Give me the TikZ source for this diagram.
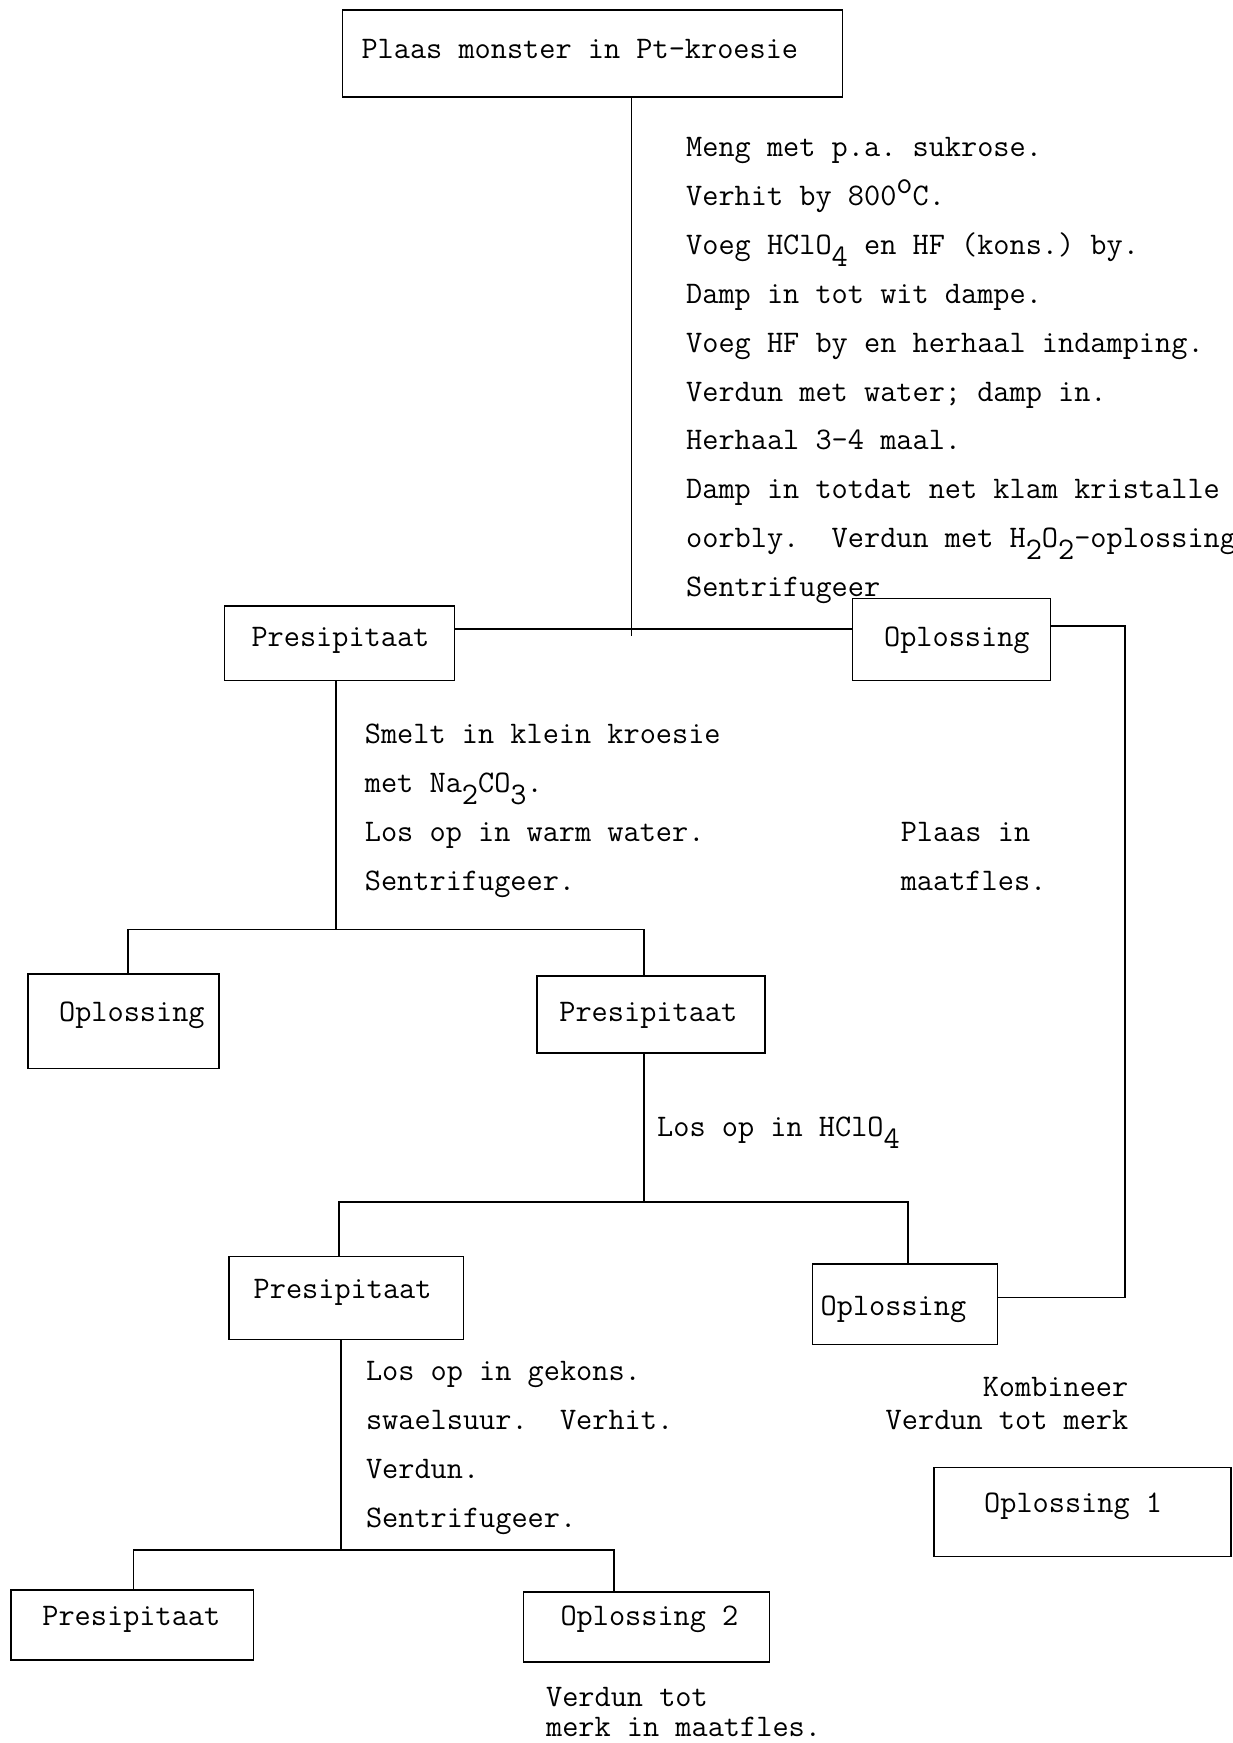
\documentclass[tikz,border=0pt]{standalone}
\usepackage{fontspec}
\setmonofont{Latin Modern Mono}
% typewriter-style sub- and superscripts: full-size characters shifted
\newcommand\lowr[1]{\raisebox{-0.9ex}{#1}}
\newcommand\highr[1]{\raisebox{0.9ex}{#1}}

\begin{document}
\begin{tikzpicture}[x=1pt,y=-1pt,
  every node/.style={font=\fontsize{31.4}{36}\selectfont\ttfamily},
  box/.style={draw, line width=1.5pt, inner sep=0pt},
  lbl/.style={anchor=base west, inner sep=0pt},
  rlbl/.style={anchor=base east, inner sep=0pt},
  conn/.style={line width=1.7pt}]
\useasboundingbox (0,0) rectangle (1233,1743);

% ---- boxes ----
\node[box, minimum width=500pt, minimum height=86.7pt] (top) at (592.6,53.4) {};
\node[box, minimum width=230pt, minimum height=74.5pt] (p1) at (339.7,643.2) {};
\node[box, minimum width=198pt, minimum height=82pt]   (o1) at (951.7,639.3) {};
\node[box, minimum width=191pt, minimum height=94.5pt] (o2) at (123.4,1021.2) {};
\node[box, minimum width=228pt, minimum height=76.7pt] (p2) at (651,1014.5) {};
\node[box, minimum width=234.6pt, minimum height=83.4pt] (p3) at (346.3,1298) {};
\node[box, minimum width=184.6pt, minimum height=80.1pt] (o3) at (905,1304.2) {};
\node[box, minimum width=297pt, minimum height=89pt]   (o4) at (1082.5,1512) {};
\node[box, minimum width=242.4pt, minimum height=70pt] (p4) at (132.3,1624.9) {};
\node[box, minimum width=245.7pt, minimum height=70pt] (o5) at (646.5,1627.1) {};

% ---- box labels ----
\node[lbl] (ttop) at (361.3,58.9) {Plaas monster in Pt-kroesie};
\node[lbl] (tp1) at (251.3,646) {Presipitaat};
\node[lbl] (to1) at (883.9,646) {Oplossing};
\node[lbl] (to2) at (58.9,1021.7) {Oplossing};
\node[lbl] (tp2) at (559.2,1021.7) {Presipitaat};
\node[lbl] (tp3) at (253.5,1298.6) {Presipitaat};
\node[lbl] (to3) at (820.5,1315.3) {Oplossing};
\node[lbl] (to4) at (984,1512) {Oplossing 1};
\node[lbl] (tp4) at (42.2,1625.5) {Presipitaat};
\node[lbl] (to5) at (560.3,1625.5) {Oplossing 2};

% ---- step descriptions ----
\node[lbl] (a0) at (686,156.8) {Meng met p.a. sukrose.};
\node[lbl] (a1) at (686,205.7) {Verhit by 800\highr{o}C.};
\node[lbl] (a2) at (686,254.5) {Voeg HClO\lowr{4} en HF (kons.) by.};
\node[lbl] (a3) at (686,303.4) {Damp in tot wit dampe.};
\node[lbl] (a4) at (686,352.2) {Voeg HF by en herhaal indamping.};
\node[lbl] (a5) at (686,401.1) {Verdun met water; damp in.};
\node[lbl] (a6) at (686,449.9) {Herhaal 3-4 maal.};
\node[lbl] (a7) at (686,498.8) {Damp in totdat net klam kristalle};
\node[lbl] (a8) at (686,547.6) {oorbly.\ \ Verdun met H\lowr{2}O\lowr{2}-oplossing};
\node[lbl] (a9) at (686,596.5) {Sentrifugeer};

\node[lbl] (b0) at (364.7,743.8) {Smelt in klein kroesie};
\node[lbl] (b1) at (364.7,792.7) {met Na\lowr{2}CO\lowr{3}.};
\node[lbl] (b2) at (364.7,841.6) {Los op in warm water.};
\node[lbl] (b3) at (364.7,890.5) {Sentrifugeer.};

\node[lbl] (c0) at (900.6,841.6) {Plaas in};
\node[lbl] (c1) at (900.6,890.5) {maatfles.};

\node[lbl] (d0) at (657,1136.3) {Los op in HClO\lowr{4}};

\node[lbl] (e0) at (365.8,1380.9) {Los op in gekons.};
\node[lbl] (e1) at (365.8,1429.8) {swaelsuur.\ \ Verhit.};
\node[lbl] (e2) at (365.8,1478.7) {Verdun.};
\node[lbl] (e3) at (365.8,1527.6) {Sentrifugeer.};

\node[rlbl] (f0) at (1128.5,1396.4) {Kombineer};
\node[rlbl] (f1) at (1128.5,1429.8) {Verdun tot merk};

\node[lbl] (g0) at (545.9,1706.6) {Verdun tot};
\node[lbl] (g1) at (545.9,1736.6) {merk in maatfles.};

% ---- connectors ----
\coordinate (j1) at (631.5,636);
\coordinate (h1) at (0,629.3);
\draw[conn] (top.south -| j1) -- (j1);
\draw[conn] (p1.east |- h1) -- (o1.west |- h1);

\coordinate (r1) at (1125.1,626);
\coordinate (r2) at (1125.1,1297.5);
\draw[conn] (o1.east |- r1) -- (r1) -- (r2) -- (o3.east |- r2);

\coordinate (s1) at (335.8,929.5);
\coordinate (s1l) at (127.9,929.5);
\coordinate (s1r) at (643.7,929.5);
\draw[conn] (p1.south -| s1) -- (s1);
\draw[conn] (o2.north -| s1l) -- (s1l) -- (s1r) -- (p2.north -| s1r);

\coordinate (s2) at (643.7,1201.9);
\coordinate (s2l) at (339.1,1201.9);
\coordinate (s2r) at (908.3,1201.9);
\draw[conn] (p2.south -| s2) -- (s2);
\draw[conn] (p3.north -| s2l) -- (s2l) -- (s2r) -- (o3.north -| s2r);

\coordinate (s3) at (341.3,1549.8);
\coordinate (s3l) at (133.4,1549.8);
\coordinate (s3r) at (613.7,1549.8);
\draw[conn] (p3.south -| s3) -- (s3);
\draw[conn] (p4.north -| s3l) -- (s3l) -- (s3r) -- (o5.north -| s3r);
\end{tikzpicture}
\end{document}
